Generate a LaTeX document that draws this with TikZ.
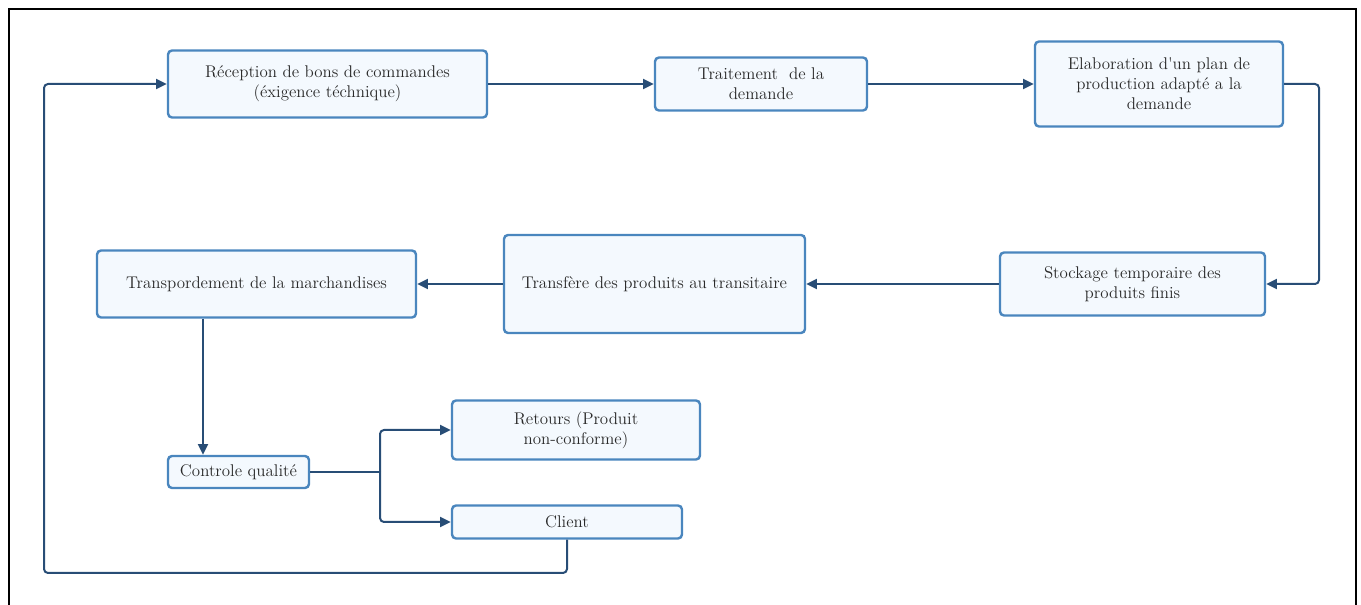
\documentclass[tikz,border=0pt]{standalone}
\usetikzlibrary{arrows.meta,calc}
\definecolor{boxfill}{HTML}{F4F9FE}
\definecolor{boxedge}{HTML}{4A86BE}
\definecolor{linkc}{HTML}{284D76}
\definecolor{txt}{HTML}{2A2A2A}
\tikzset{
  stepbox/.style={draw=boxedge, fill=boxfill, line width=1.8pt, rounded corners=3pt,
    align=center, inner sep=0pt, text=txt, font=\fontsize{12.7}{15}\selectfont},
  link/.style={draw=linkc, line width=1.5pt, rounded corners=3pt,
    -{Triangle[length=8pt,width=7.5pt]}},
  plain/.style={draw=linkc, line width=1.5pt, rounded corners=3pt},
}
\begin{document}
\begin{tikzpicture}[x=0.75pt,y=-0.75pt]
\useasboundingbox (0,0) rectangle (1361,605);
\begin{scope}
\clip (0,0) rectangle (1361,605);
\draw[line width=1.6pt] (9,9) rectangle (1356,640);
\end{scope}

% process boxes
\node[stepbox, minimum width=239.25pt, minimum height=50.25pt] (recep) at (327.5,84)
  {Réception de bons de commandes\\(éxigence téchnique)};
\node[stepbox, minimum width=159pt, minimum height=39.75pt] (trait) at (761,84)
  {Traitement\ \ de la\\demande};
\node[stepbox, minimum width=186pt, minimum height=63.75pt] (elab) at (1159,84)
  {Elaboration d\textquotesingle un plan de\\production adapté a la\\demande};
\node[stepbox, minimum width=198.75pt, minimum height=47.25pt] (stock) at (1132.5,284)
  {Stockage temporaire des\\produits finis};
\node[stepbox, minimum width=225.75pt, minimum height=73.5pt] (transf) at (654.5,284)
  {Transfère des produits au transitaire};
\node[stepbox, minimum width=239.25pt, minimum height=50.25pt] (transp) at (256.5,284)
  {Transpordement de la marchandises};
\node[stepbox, minimum width=105.75pt, minimum height=24pt] (ctrl) at (238.5,472)
  {Controle qualité};
\node[stepbox, minimum width=186pt, minimum height=44.25pt] (ret) at (576,430)
  {Retours (Produit\\non-conforme)};
\node[stepbox, minimum width=172.5pt, minimum height=24.75pt] (cli) at (567,522)
  {Client};

% routing points
\coordinate (tdown) at (203,317);
\coordinate (fork) at (380,472);

% connectors
\draw[link] (recep.east) -- (trait.west);
\draw[link] (trait.east) -- (elab.west);
\draw[link] (elab.east) -| (1319,200) |- (stock.east);
\draw[link] (stock.west) -- (transf.east);
\draw[link] (transf.west) -- (transp.east);
\draw[link] (tdown |- transp.south) -- (tdown |- ctrl.north);
\draw[plain] (ctrl.east) -- (fork);
\draw[link] (fork) |- (ret.west);
\draw[link] (fork) |- (cli.west);
\draw[link] (cli.south) -- (cli.south |- 0,573) -| (44,300) |- (recep.west);
\end{tikzpicture}
\end{document}
